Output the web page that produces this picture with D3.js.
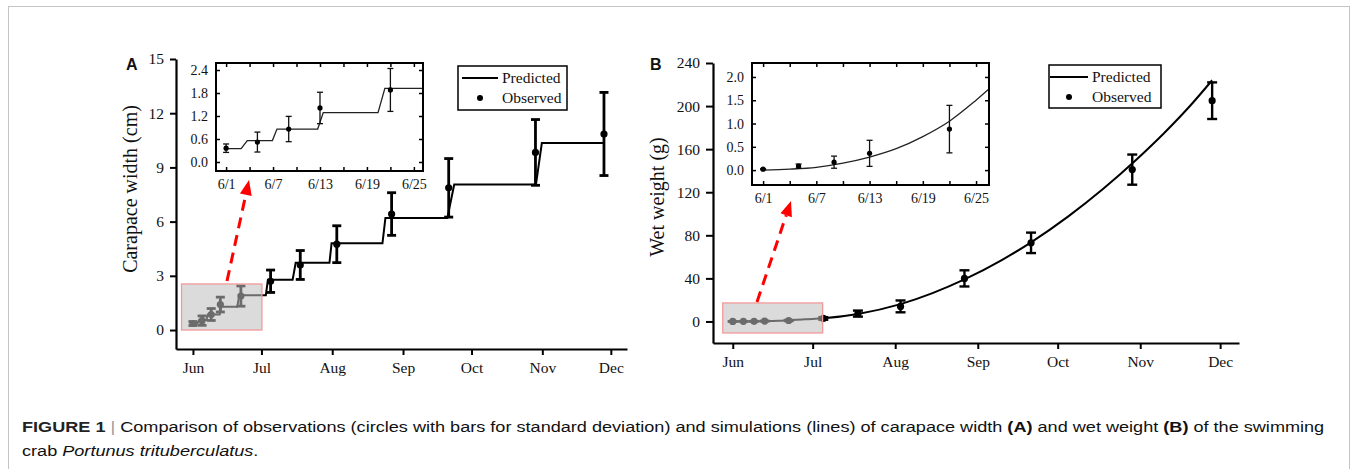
<!DOCTYPE html>
<html>
<head>
<meta charset="utf-8">
<script src="https://cdn.jsdelivr.net/npm/d3@7"></script>
<style>
  body { margin: 0; background: #fff; }
  svg text { font-family: "Liberation Serif", "Times New Roman", serif; fill: #111; }
</style>
</head>
<body>
<svg id="fig" width="1356" height="469"></svg>
<script>
// ---- data ----
const sampleDates = ["2019-06-01", "2019-06-05", "2019-06-09", "2019-06-13", "2019-06-22", "2019-07-05",
  "2019-07-18", "2019-08-03", "2019-08-27", "2019-09-21", "2019-10-29", "2019-11-28"];
const widthMean = [0.36, 0.52, 0.86, 1.41, 1.88, 2.7, 3.6, 4.75, 6.42, 7.87, 9.83, 10.85];
const widthSD = [0.11, 0.26, 0.33, 0.41, 0.56, 0.62, 0.8, 1.02, 1.18, 1.62, 1.82, 2.3];
const weightMean = [0.02, 0.085, 0.17, 0.36, 0.88, 2.8, 7.3, 14, 40, 73, 141, 205];
const weightSD = [0.01, 0.045, 0.13, 0.28, 0.51, 1.2, 2.8, 5.5, 7.5, 9.5, 14, 17];

// predicted carapace width (step growth, moults)
const widthPredDates = ["2019-06-01 00", "2019-06-02 22", "2019-06-03 17", "2019-06-06 22", "2019-06-07 12",
  "2019-06-12 17", "2019-06-13 10", "2019-06-20 10", "2019-06-21 07", "2019-07-02 22", "2019-07-03 20",
  "2019-07-14 16", "2019-07-16 00", "2019-07-30 19", "2019-07-31 17", "2019-08-23 00", "2019-08-24 07",
  "2019-09-20 10", "2019-09-23 10", "2019-10-29 05", "2019-10-31 19", "2019-11-28 00"];
const widthPredValues = [0.35, 0.35, 0.56, 0.56, 0.86, 0.86, 1.29, 1.29, 1.92, 1.92, 2.78,
  2.78, 3.72, 3.72, 4.8, 4.8, 6.2, 6.2, 8.05, 8.05, 10.35, 10.35];

// predicted wet weight
const weightPredDates = ["2019-06-01", "2019-06-04", "2019-06-07", "2019-06-10", "2019-06-13", "2019-06-16",
  "2019-06-19", "2019-06-22", "2019-06-25", "2019-06-28", "2019-07-05", "2019-07-18", "2019-08-03",
  "2019-08-15", "2019-08-27", "2019-09-10", "2019-09-21", "2019-10-05", "2019-10-18", "2019-10-30",
  "2019-11-10", "2019-11-20", "2019-11-28"];
const weightPredValues = [0, 0.02, 0.06, 0.15, 0.28, 0.46, 0.72, 1.05, 1.5, 2.0, 3.0, 7.0, 16.1,
  26.3, 39, 57, 73.5, 97.6, 123, 149, 175, 201, 224];

const monthTicks = ["2019-06-01", "2019-07-01", "2019-08-01", "2019-09-01", "2019-10-01", "2019-11-01", "2019-12-01"];
const insetMajorTicks = ["2019-06-01", "2019-06-07", "2019-06-13", "2019-06-19", "2019-06-25"];
const insetMinorTicks = ["2019-06-04", "2019-06-10", "2019-06-16", "2019-06-22"];
const widthTicks = [0, 3, 6, 9, 12, 15];
const weightTicks = [0, 40, 80, 120, 160, 200, 240];
const widthInsetTicks = [0, 0.6, 1.2, 1.8, 2.4];
const weightInsetTicks = [0, 0.5, 1.0, 1.5, 2.0];
const legendLabels = ["Predicted", "Observed"];

// ---- helpers ----
const parse = s => d3.utcParse(s.length > 10 ? "%Y-%m-%d %H" : "%Y-%m-%d")(s);
const svg = d3.select("#fig");

// figure frame
svg.append("rect").attr("x", 8.5).attr("y", 6.5).attr("width", 1341).attr("height", 480)
  .attr("fill", "none").attr("stroke", "#c4c4c4").attr("stroke-width", 1);

function drawPanel(c) {
  const g = svg.append("g");
  const obs = sampleDates.map((d, i) => ({date: parse(d), m: c.mean[i], sd: c.sd[i]}));
  const pred = c.predDates.map((d, i) => ({date: parse(d), v: c.predValues[i]}));

  // main scales
  const x = d3.scaleUtc().domain([parse("2019-05-24 14"), parse("2019-12-08 02")]).range([c.left, c.right]);
  const y = d3.scaleLinear().domain(c.yDomain).range([c.bottom, c.top]);

  const xAxis = g.append("g").attr("transform", `translate(0,${c.bottom})`)
    .call(d3.axisBottom(x).tickValues(monthTicks.map(parse)).tickFormat(d3.utcFormat("%b"))
      .tickSizeInner(6).tickSizeOuter(0).tickPadding(7));
  const yAxis = g.append("g").attr("transform", `translate(${c.left},0)`)
    .call(d3.axisLeft(y).tickValues(c.yTicks).tickSizeInner(c.yTick).tickSizeOuter(0).tickPadding(6));
  [xAxis, yAxis].forEach(a => {
    a.select(".domain").attr("stroke-width", 2.2);
    a.selectAll(".tick line").attr("stroke-width", 2);
    a.selectAll("text").attr("font-size", 15.5).attr("fill", "#111")
      .attr("font-family", "Liberation Serif");
  });

  g.append("text").attr("transform", `translate(${c.titleX},${c.titleY}) rotate(-90)`)
    .attr("text-anchor", "middle").attr("font-size", 20).text(c.yTitle);
  g.append("text").attr("x", c.letterX).attr("y", 70)
    .attr("font-weight", "bold").attr("font-size", 16).style("font-family", "Liberation Sans").text(c.letter);

  // predicted line
  const line = d3.line().x(d => x(d.date)).y(d => y(d.v));
  if (c.smooth) line.curve(d3.curveMonotoneX);
  g.append("path").datum(pred).attr("d", line).attr("fill", "none").attr("stroke", "#000").attr("stroke-width", 2);

  // observed with SD bars
  const eb = g.append("g").selectAll("g").data(obs).join("g");
  eb.append("line").attr("x1", d => x(d.date)).attr("x2", d => x(d.date))
    .attr("y1", d => y(d.m - d.sd)).attr("y2", d => y(d.m + d.sd)).attr("stroke", "#000").attr("stroke-width", c.ebWidth);
  [-1, 1].forEach(s => eb.append("line").attr("x1", d => x(d.date) - c.cap / 2).attr("x2", d => x(d.date) + c.cap / 2)
    .attr("y1", d => y(d.m + s * d.sd)).attr("y2", d => y(d.m + s * d.sd)).attr("stroke", "#000").attr("stroke-width", c.ebWidth));
  eb.append("circle").attr("cx", d => x(d.date)).attr("cy", d => y(d.m)).attr("r", 3.6).attr("fill", "#000");

  // zoomed region (translucent box)
  const bx0 = x(parse(c.zoomDates[0])), bx1 = x(parse(c.zoomDates[1]));
  const by0 = y(c.zoomValues[1]), by1 = y(c.zoomValues[0]);
  g.append("rect").attr("x", bx0).attr("y", by0).attr("width", bx1 - bx0).attr("height", by1 - by0)
    .attr("fill", "rgb(190,190,190)").attr("fill-opacity", 0.56).attr("stroke", "#f29a9a").attr("stroke-width", 1.3);

  // red dashed arrow
  const [ax0, ay0, ax1, ay1] = c.arrow;
  const ang = Math.atan2(ay1 - ay0, ax1 - ax0);
  const hl = 15, hw = 6;
  const bxm = ax1 - hl * Math.cos(ang), bym = ay1 - hl * Math.sin(ang);
  g.append("line").attr("x1", ax0).attr("y1", ay0).attr("x2", bxm).attr("y2", bym)
    .attr("stroke", "#ff0000").attr("stroke-width", 3).attr("stroke-dasharray", "11,7");
  g.append("path").attr("d", `M${ax1},${ay1}L${bxm + hw * Math.sin(ang)},${bym - hw * Math.cos(ang)}L${bxm - hw * Math.sin(ang)},${bym + hw * Math.cos(ang)}Z`)
    .attr("fill", "#ff0000");

  // ---- inset ----
  const ib = c.inset;
  const ix = d3.scaleUtc().domain(ib.xDomain.map(parse)).range([ib.left, ib.right]);
  const iy = d3.scaleLinear().domain(ib.yDomain).range([ib.bottom, ib.top]);
  const ig = g.append("g");
  ig.append("rect").attr("x", ib.left).attr("y", ib.top).attr("width", ib.right - ib.left).attr("height", ib.bottom - ib.top)
    .attr("fill", "#fff");
  const clipId = "clip" + c.letter;
  ig.append("clipPath").attr("id", clipId).append("rect").attr("x", ib.left).attr("y", ib.top)
    .attr("width", ib.right - ib.left).attr("height", ib.bottom - ib.top);
  const fmt = d3.utcFormat("%-m/%-d");
  const axes = [
    ig.append("g").attr("transform", `translate(0,${ib.bottom})`)
      .call(d3.axisBottom(ix).tickValues(insetMajorTicks.map(parse)).tickFormat(fmt).tickSize(-4).tickPadding(8)),
    ig.append("g").attr("transform", `translate(0,${ib.bottom})`)
      .call(d3.axisBottom(ix).tickValues(insetMinorTicks.map(parse)).tickFormat("").tickSize(-4)),
    ig.append("g").attr("transform", `translate(0,${ib.top})`)
      .call(d3.axisTop(ix).tickValues(insetMajorTicks.concat(insetMinorTicks).map(parse)).tickFormat("").tickSize(-4)),
    ig.append("g").attr("transform", `translate(${ib.left},0)`)
      .call(d3.axisLeft(iy).tickValues(ib.ticks).tickFormat(d3.format(".1f")).tickSize(-4).tickPadding(8)),
    ig.append("g").attr("transform", `translate(${ib.right},0)`)
      .call(d3.axisRight(iy).tickValues(ib.ticks).tickFormat("").tickSize(-4))
  ];
  axes.forEach(a => {
    a.select(".domain").remove();
    a.selectAll(".tick line").attr("stroke-width", 1.5);
    a.selectAll("text").attr("font-size", 14).attr("fill", "#111").attr("font-family", "Liberation Serif");
  });
  const ic = ig.append("g").attr("clip-path", `url(#${clipId})`);
  const iline = d3.line().x(d => ix(d.date)).y(d => iy(d.v));
  if (c.smooth) iline.curve(d3.curveMonotoneX);
  ic.append("path").datum(pred).attr("d", iline).attr("fill", "none").attr("stroke", "#222").attr("stroke-width", 1.3);
  const iobs = obs.filter(d => d.date <= ix.domain()[1]);
  const ieb = ic.append("g").selectAll("g").data(iobs).join("g");
  ieb.append("line").attr("x1", d => ix(d.date)).attr("x2", d => ix(d.date))
    .attr("y1", d => iy(d.m - d.sd)).attr("y2", d => iy(d.m + d.sd)).attr("stroke", "#111").attr("stroke-width", 1.3);
  [-1, 1].forEach(s => ieb.append("line").attr("x1", d => ix(d.date) - 3).attr("x2", d => ix(d.date) + 3)
    .attr("y1", d => iy(d.m + s * d.sd)).attr("y2", d => iy(d.m + s * d.sd)).attr("stroke", "#111").attr("stroke-width", 1.3));
  ieb.append("circle").attr("cx", d => ix(d.date)).attr("cy", d => iy(d.m)).attr("r", 2.6).attr("fill", "#000");
  ig.append("rect").attr("x", ib.left).attr("y", ib.top).attr("width", ib.right - ib.left).attr("height", ib.bottom - ib.top)
    .attr("fill", "none").attr("stroke", "#000").attr("stroke-width", 2);

  // ---- legend ----
  const L = c.legend;
  const lg = g.append("g").attr("transform", `translate(${L.x},${L.y})`);
  lg.append("rect").attr("width", L.w).attr("height", L.h).attr("fill", "#fff").attr("stroke", "#000").attr("stroke-width", 1.5);
  lg.append("line").attr("x1", L.lineX0).attr("x2", L.textX - 4).attr("y1", 12).attr("y2", 12).attr("stroke", "#000").attr("stroke-width", 2);
  lg.append("circle").attr("cx", L.dotX).attr("cy", 32).attr("r", 3).attr("fill", "#000");
  lg.selectAll("text").data(legendLabels).join("text").attr("x", L.textX).attr("y", (d, i) => 17 + i * 20)
    .attr("font-size", 15.5).text(d => d);
}

drawPanel({
  letter: "A", letterX: 126, titleX: 137, titleY: 189, yTitle: "Carapace width (cm)",
  left: 176, right: 627, top: 59, bottom: 349, yDomain: [-1.05, 15], yTicks: widthTicks, yTick: 6,
  mean: widthMean, sd: widthSD, predDates: widthPredDates, predValues: widthPredValues, smooth: false,
  ebWidth: 2.8, cap: 9,
  zoomDates: ["2019-05-27", "2019-07-01 05"], zoomValues: [0, 2.55],
  arrow: [227, 281, 249, 180],
  inset: {left: 216, right: 423, top: 63, bottom: 171, xDomain: ["2019-05-30 17", "2019-06-26 04"],
    yDomain: [-0.235, 2.583], ticks: widthInsetTicks},
  legend: {x: 458, y: 66, w: 109, h: 44, lineX0: 4, dotX: 22, textX: 44}
});

drawPanel({
  letter: "B", letterX: 650, titleX: 664, titleY: 197, yTitle: "Wet weight (g)",
  left: 713, right: 1239, top: 63, bottom: 343, yDomain: [-20, 240], yTicks: weightTicks, yTick: 7,
  mean: weightMean, sd: weightSD, predDates: weightPredDates, predValues: weightPredValues, smooth: true,
  ebWidth: 2.4, cap: 10,
  zoomDates: ["2019-05-28 06", "2019-07-04 18"], zoomValues: [-10.7, 17.2],
  arrow: [757, 302, 791, 201],
  inset: {left: 752, right: 989, top: 63, bottom: 185, xDomain: ["2019-05-30 18", "2019-06-26 11"],
    yDomain: [-0.32, 2.30], ticks: weightInsetTicks},
  legend: {x: 1049, y: 65, w: 112, h: 43, lineX0: 1, dotX: 20, textX: 43}
});

// ---- caption ----
const cap = svg.append("g").attr("font-size", 15.5);
const l1 = cap.append("text").style("font-family", "Liberation Sans").attr("fill", "#333");
l1.append("tspan").attr("font-weight", "bold").attr("fill", "#222").text("FIGURE 1");
l1.append("tspan").attr("fill", "#999").text(" | ");
l1.append("tspan").text("Comparison of observations (circles with bars for standard deviation) and simulations (lines) of carapace width ");
l1.append("tspan").attr("font-weight", "bold").text("(A)");
l1.append("tspan").text(" and wet weight ");
l1.append("tspan").attr("font-weight", "bold").text("(B)");
l1.append("tspan").text(" of the swimming");
const l2 = cap.append("text").style("font-family", "Liberation Sans").attr("fill", "#333");
l2.append("tspan").text("crab ");
l2.append("tspan").attr("font-style", "italic").text("Portunus trituberculatus");
l2.append("tspan").text(".");
const sx = (1325 - 22) / l1.node().getComputedTextLength();
l1.attr("transform", `translate(22,432) scale(${sx},1)`);
l2.attr("transform", `translate(22,456) scale(${sx},1)`);
</script>
</body>
</html>
